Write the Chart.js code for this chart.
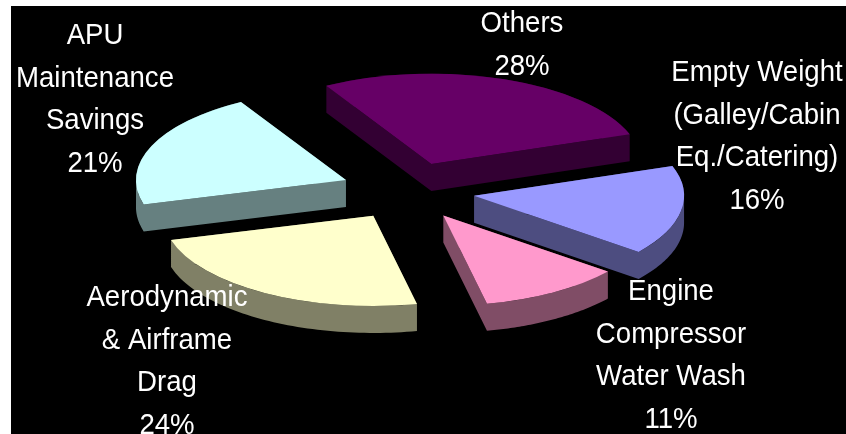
<!DOCTYPE html>
<html>
<head>
<meta charset="utf-8">
<style>
html, body { margin:0; padding:0; background:#fff; }
canvas { display:block; }
</style>
<script src="https://cdn.jsdelivr.net/npm/chart.js@4"></script>
</head>
<body>
<canvas id="chartPie" width="846" height="434"></canvas>
<script>
// Datos
const CATEGORIAS = ['Others', 'Empty Weight (Galley/Cabin Eq./Catering)', 'Engine Compressor Water Wash', 'Aerodynamic & Airframe Drag', 'APU Maintenance Savings'];
const VALORES = [28, 16, 11, 24, 21];
const COLORES = ['#660066', '#9999FF', '#FF99CC', '#FFFFCC', '#CCFFFF'];
const LATERALES = ['#330033', '#4D4D80', '#804D66', '#808066', '#668080'];
const LINEAS = [
    ['Others', '28%'],
    ['Empty Weight', '(Galley/Cabin', 'Eq./Catering)', '16%'],
    ['Engine', 'Compressor', 'Water Wash', '11%'],
    ['Aerodynamic', '& Airframe', 'Drag', '24%'],
    ['APU', 'Maintenance', 'Savings', '21%']
];

// Layout del pseudo 3D
const APLASTE = 0.43;      // inclinación de la elipse
const PROFUNDIDAD = 27;    // grosor de las rebanadas
const SEPARACION = 67;     // explosión de cada rebanada
const ORDEN = [0, 4, 1, 3, 2]; // de atrás hacia adelante
const POS_TEXTO = [[522, 24], [757, 73], [671, 292], [167, 298], [95, 36]];
const ALTO_LINEA = 42.6;

function desplazamiento(arc) {
    const mid = (arc.startAngle + arc.endAngle) / 2;
    return { dx: Math.cos(mid) * SEPARACION, dy: Math.sin(mid) * SEPARACION * APLASTE };
}

function dibujarLateral(ctx, arc, color) {
    const { dx, dy } = desplazamiento(arc);
    const p = t => [arc.x + dx + Math.cos(t) * arc.outerRadius, arc.y + dy + Math.sin(t) * arc.outerRadius * APLASTE];
    const borde = [[arc.x + dx, arc.y + dy]];
    const pasos = 60;
    for (let i = 0; i <= pasos; i++) {
        borde.push(p(arc.startAngle + (arc.endAngle - arc.startAngle) * i / pasos));
    }
    borde.push(borde[0]);
    ctx.beginPath();
    for (let i = 0; i < borde.length - 1; i++) {
        const [x1, y1] = borde[i], [x2, y2] = borde[i + 1];
        // misma orientación en cada cuadrilátero para que no queden huecos
        const giro = (x2 - x1) >= 0;
        ctx.moveTo(x1, y1);
        if (giro) {
            ctx.lineTo(x2, y2); ctx.lineTo(x2, y2 + PROFUNDIDAD); ctx.lineTo(x1, y1 + PROFUNDIDAD);
        } else {
            ctx.lineTo(x1, y1 + PROFUNDIDAD); ctx.lineTo(x2, y2 + PROFUNDIDAD); ctx.lineTo(x2, y2);
        }
        ctx.closePath();
    }
    ctx.fillStyle = color;
    ctx.fill();
}

const pastel3d = {
    id: 'pastel3d',
    beforeDraw(chart) {
        const { ctx, width, height } = chart;
        ctx.save();
        ctx.fillStyle = '#fff';
        ctx.fillRect(0, 0, width, height);
        ctx.fillStyle = '#000';
        ctx.fillRect(11, 6, width - 11, height - 6);
        ctx.restore();
    },
    beforeDatasetsDraw(chart) {
        const { ctx } = chart;
        const arcs = chart.getDatasetMeta(0).data;
        ORDEN.forEach(i => {
            const arc = arcs[i];
            const { dx, dy } = desplazamiento(arc);
            dibujarLateral(ctx, arc, LATERALES[i]);
            ctx.save();
            ctx.translate(arc.x + dx, arc.y + dy);
            ctx.scale(1, APLASTE);
            ctx.translate(-arc.x, -arc.y);
            arc.draw(ctx);
            ctx.restore();
        });
        return false;
    },
    afterDraw(chart) {
        const { ctx } = chart;
        ctx.save();
        ctx.fillStyle = '#fff';
        ctx.font = '30px "Liberation Sans", Arial, sans-serif';
        ctx.textAlign = 'center';
        ctx.textBaseline = 'middle';
        LINEAS.forEach((lineas, i) => {
            lineas.forEach((txt, j) => {
                ctx.save();
                ctx.translate(POS_TEXTO[i][0], POS_TEXTO[i][1] + j * ALTO_LINEA);
                ctx.scale(0.92, 1);
                ctx.fillText(txt, 0, 0);
                ctx.restore();
            });
        });
        ctx.restore();
    }
};

new Chart(document.getElementById('chartPie'), {
    type: 'pie',
    data: {
        labels: CATEGORIAS,
        datasets: [{ data: VALORES, backgroundColor: COLORES, borderWidth: 0 }]
    },
    options: {
        responsive: false,
        animation: false,
        rotation: -30,
        radius: 210,
        layout: { padding: { right: 30, bottom: 52 } },
        plugins: { legend: { display: false }, tooltip: { enabled: false } }
    },
    plugins: [pastel3d]
});
</script>
</body>
</html>
